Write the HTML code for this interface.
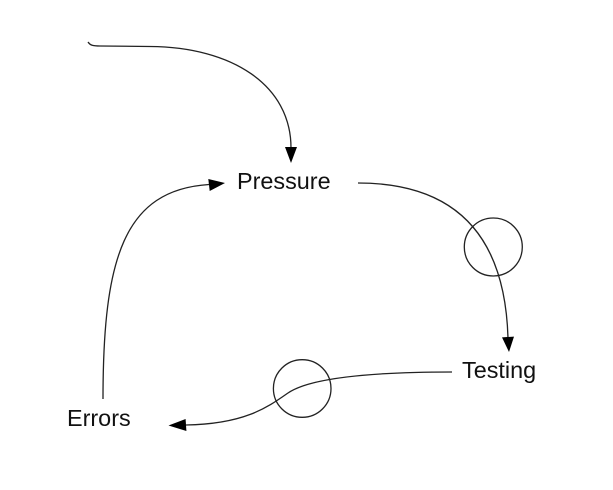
<!DOCTYPE html>
<html>
<head>
<meta charset="utf-8">
<style>
html,body{margin:0;padding:0;background:#fff;}
svg{display:block;}
text{font-family:"Liberation Sans",Arial,sans-serif;font-size:23.4px;fill:#111;}
</style>
</head>
<body>
<svg width="613" height="490" viewBox="0 0 613 490" xmlns="http://www.w3.org/2000/svg">
<g fill="none" stroke="#222" stroke-width="1.3">
<path d="M88,42 C90,45 92,46 100,46 L150,46.5 C232,47 291,85 291,148"/>
<path d="M103,399 C103,258 124,190 209,184.5"/>
<path d="M358,183 C455,183 505,235 508,338"/>
<path d="M452,372 C370,372 310,378 288,393 C268,407 245,424 186,425"/>
<circle cx="493.3" cy="247" r="29"/>
<circle cx="302.2" cy="388.5" r="28.8"/>
</g>
<g fill="#000">
<polygon points="285,147 297,147 291,163"/>
<polygon points="209.7,191 208.3,179 225,183"/>
<polygon points="502,337.4 514,336.6 509,352"/>
<polygon points="186.4,431 185.6,419 168.5,425.5"/>
</g>
<text x="237" y="189">Pressure</text>
<text x="462" y="378">Testing</text>
<text x="67" y="426">Errors</text>
</svg>
</body>
</html>
